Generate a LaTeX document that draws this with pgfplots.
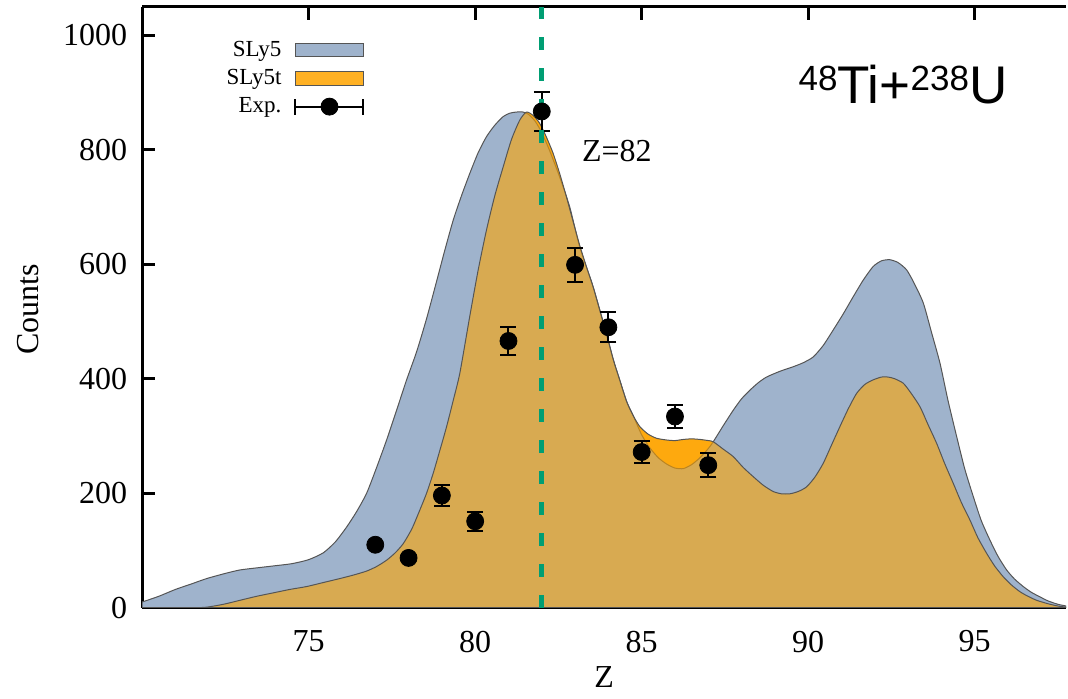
\documentclass[border=0pt]{standalone}
\usepackage{fontspec}
\setmainfont{Liberation Serif}
\newfontfamily\arial{Liberation Sans}
\usepackage{pgfplots}
\usepackage{pgfplotstable}
\pgfplotsset{compat=1.18}

\definecolor{sblue}{HTML}{9FB3CC}
\definecolor{sorange}{HTML}{FFB124}
\definecolor{smix}{RGB}{254,164,0}
\definecolor{sgreen}{HTML}{009E73}
\definecolor{edge}{HTML}{555555}

% SLy5
\pgfplotstableread{
x y
70.0 10
70.5 20
71.0 32
71.5 42
71.94 51
72.5 60
72.94 66
73.5 70
73.94 73
74.5 77
75.0 84
75.44 96
75.8 115
76.14 141
76.44 168
76.74 200
77.04 245
77.34 293
77.64 345
77.94 398
78.24 447
78.54 505
78.84 570
79.09 625
79.34 677
79.59 720
79.84 759
80.09 795
80.34 823
80.59 843
80.84 858
81.04 864
81.24 866
81.44 866
81.6 862
81.8 850
82.0 830
82.24 798
82.54 752
82.84 700
83.14 630
83.54 561
83.94 479
84.15 433
84.34 398
84.55 360
84.75 335
85.0 302
85.25 279
85.5 262
85.75 251
86.0 244
86.25 243
86.5 250
86.75 262
87.0 278
87.15 290
87.45 318
87.75 345
88.0 365
88.25 380
88.5 393
88.75 403
89.15 413
89.55 421
89.85 428
90.15 438
90.45 458
90.75 485
91.05 513
91.35 543
91.65 572
91.95 596
92.2 606
92.45 608
92.7 603
92.96 590
93.2 565
93.46 532
93.7 482
93.96 427
94.2 362
94.46 299
94.7 243
94.96 194
95.2 152
95.46 118
95.7 90
95.96 66
96.2 50
96.46 37
96.7 27
96.96 19
97.2 12
97.5 6
97.75 3
}\slyfive

% SLy5t
\pgfplotstableread{
x y
70.0 0
71.5 0
71.94 1
72.44 6
72.94 13
73.44 20
73.94 26
74.44 32
74.94 37
75.44 44
75.94 51
76.34 57
76.74 64
77.04 72
77.34 83
77.6 96
77.84 112
78.1 138
78.34 171
78.54 200
78.74 235
78.94 275
79.14 316
79.34 362
79.54 410
79.84 510
80.09 590
80.34 660
80.59 720
80.84 770
81.09 818
81.34 852
81.54 866
81.74 860
81.94 846
82.14 822
82.34 794
82.54 758
82.74 718
82.94 675
83.14 633
83.34 596
83.54 561
83.74 520
83.94 479
84.15 433
84.34 398
84.55 360
84.75 335
84.95 316
85.2 303
85.45 296
85.75 293
86.0 292
86.25 294
86.5 295
86.75 294
87.0 292
87.15 290
87.45 277
87.75 264
88.05 245
88.35 229
88.65 214
88.95 203
89.2 199
89.45 199
89.7 203
89.95 211
90.2 228
90.45 252
90.7 284
90.95 316
91.2 347
91.45 374
91.7 390
91.95 398
92.2 403
92.4 403
92.6 400
92.86 392
93.1 374
93.36 351
93.6 320
93.86 287
94.1 252
94.36 217
94.6 184
94.86 153
95.1 122
95.36 95
95.6 73
95.86 54
96.1 40
96.36 28
96.6 20
96.86 13
97.2 7
97.5 3
97.75 1
}\slyfivet

% experiment
\pgfplotstableread{
x y e
77 110 0
78 87 0
79 196 18
80 151 17
81 466 25
82 867 34
83 599 30
84 490 26
85 272 20
86 334 20
87 249 21
}\expdata

\begin{document}
\begin{tikzpicture}
\begin{axis}[
  name=ax,
  scale only axis,
  width=462pt, height=300.5pt,
  xmin=70, xmax=97.75,
  ymin=0, ymax=1050,
  axis x line*=box, axis y line*=left,
  xtick={75,80,85,90,95}, xtick pos=both,
  ytick={0,200,400,600,800,1000}, ytick pos=left,
  tick align=inside,
  major tick length=6.5pt,
  axis line style={line width=1.6pt},
  major tick style={line width=1.4pt, black},
  /pgf/number format/assume math mode=true,
  /pgf/number format/1000 sep={},
  tick label style={font=\fontsize{16}{16}\selectfont},
  xticklabel style={yshift=-8pt},
  yticklabel style={xshift=-4pt},
  xlabel={Z}, ylabel={Counts},
  every axis x label/.style={at={(axis description cs:0.5,-0.116)}, anchor=center,
    font=\fontsize{16}{16}\selectfont},
  every axis y label/.style={at={(axis description cs:-0.123,0.497)}, anchor=center, rotate=90,
    font=\fontsize{16}{16}\selectfont},
  legend plot pos=right,
  legend cell align=right,
  legend style={draw=none, fill=none, at={(rel axis cs:0.241,0.945)}, anchor=north east,
    inner sep=0pt, font=\fontsize{11.5}{12}\selectfont, row sep=4pt, column sep=6pt,
    nodes={inner sep=0.5pt}},
]
% orange under-layer
\addplot[draw=none, fill=sorange, smooth, tension=0.4, forget plot] table[x=x, y=y] {\slyfivet} \closedcycle;
% SLy5
\addplot[draw=edge, line width=0.5pt, fill=sblue, smooth, tension=0.4,
  legend image code/.code={\draw[fill=sblue, draw=edge, line width=0.4pt] (0pt,-3.3pt) rectangle (34pt,3.3pt);}]
  table[x=x, y=y] {\slyfive} \closedcycle;
\addlegendentry{SLy5}
% SLy5t (translucent)
\addplot[draw=edge, line width=0.5pt, fill=smix, fill opacity=0.6, smooth, tension=0.4,
  legend image code/.code={\draw[fill=sorange, fill opacity=1, draw=edge, line width=0.4pt] (0pt,-3.3pt) rectangle (34pt,3.3pt);}]
  table[x=x, y=y] {\slyfivet} \closedcycle;
\addlegendentry{SLy5t}
% experiment
\addplot[only marks, mark=*, mark size=4.25pt, black,
  error bars/.cd, y dir=both, y explicit,
  error bar style={line width=1pt, black},
  error mark options={rotate=90, line width=1pt, mark size=4pt, black},
  /pgfplots/legend image code/.code={
    \draw[line width=1pt] (0pt,0pt) -- (34pt,0pt);
    \draw[line width=1pt] (0pt,-4pt) -- (0pt,4pt);
    \draw[line width=1pt] (34pt,-4pt) -- (34pt,4pt);
    \fill (17pt,0pt) circle (4.25pt);}]
  table[x=x, y=y, y error=e] {\expdata};
\addlegendentry{Exp.}
% Z=82 line
\addplot[sgreen, line width=2.6pt, dash pattern=on 6.5pt off 9pt] coordinates {(82,0) (82,1050)};
\node[anchor=base west, font=\fontsize{16}{16}\selectfont] at (axis cs:83.0,779) {Z=82};
\node[anchor=base west, font=\arial\fontsize{26.5}{30}\selectfont] at (axis cs:89.5,881)
  {\raisebox{6.5pt}{\fontsize{17.5}{18}\selectfont 48}Ti+\raisebox{6.5pt}{\fontsize{17.5}{18}\selectfont 238}U};
\end{axis}
\pgfresetboundingbox
\path (ax.south west) ++(-71.1pt,-45.15pt) rectangle ++(534pt,349pt);
\end{tikzpicture}
\end{document}
